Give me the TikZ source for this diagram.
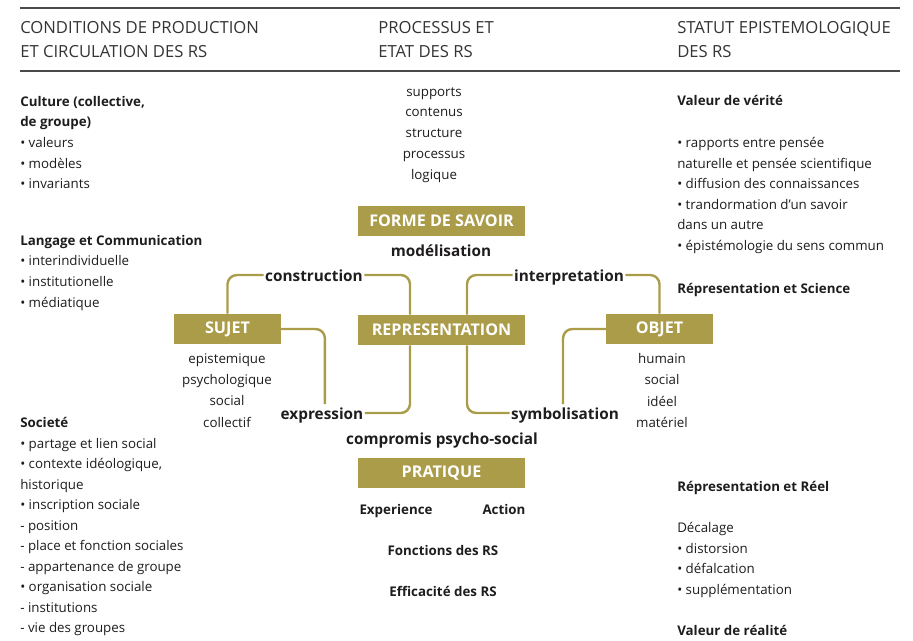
\documentclass[tikz,border=0pt]{standalone}
\usepackage{fontspec}
\setmainfont{Open Sans}
\usepackage{tikz}
\usetikzlibrary{positioning,calc}
\definecolor{rsgold}{HTML}{AA9C48}
\definecolor{ink}{HTML}{1E1C1C}
\tikzstyle{block} = [fill=rsgold, text=white, minimum height=22.5pt, inner sep=0pt,
    font=\bfseries\fontsize{12.1}{14}\selectfont]
\tikzstyle{wide} = [block, minimum width=125pt]
\tikzstyle{narrow} = [block, minimum width=80pt]
\tikzstyle{link} = [rsgold, line width=1.8pt, rounded corners=7pt]
\tikzstyle{proc} = [font=\bfseries\fontsize{11.5}{14}\selectfont, text=ink, inner sep=1pt,
    text height=10pt, text depth=1pt]
\tikzstyle{head} = [font=\fontsize{12.5}{18}\selectfont, text=ink!90, align=left,
    anchor=north west, inner sep=0pt]
\tikzstyle{body} = [font=\fontsize{10}{15.4}\selectfont, text=ink, align=left,
    anchor=north west, inner sep=0pt]
\tikzstyle{list} = [font=\fontsize{10}{15.6}\selectfont, text=ink, align=center,
    anchor=north, inner sep=0pt]
\tikzstyle{item} = [font=\bfseries\fontsize{10}{12}\selectfont, text=ink, inner sep=0pt,
    text height=9pt, text depth=0.7pt]
\tikzstyle{rule} = [ink!80, line width=1.1pt]

\begin{document}
\begin{tikzpicture}[x=0.75pt, y=-0.75pt]
    \useasboundingbox (0,0) rectangle (913,640);

    % column heads
    \draw [rule] (20,8) -- (900,8);
    \draw [rule] (20,71) -- (900,71);
    \node (head1) [head] at (20,21) {CONDITIONS DE PRODUCTION\\ET CIRCULATION DES RS};
    \node (head2) [head] at (378,21) {PROCESSUS ET\\ETAT DES RS};
    \node (head3) [head] at (677,21) {STATUT EPISTEMOLOGIQUE\\DES RS};

    % left column
    \node (culture) [body] at (20,96) {\textbf{Culture (collective,}\\\textbf{de groupe)}\\• valeurs\\• modèles\\• invariants};
    \node (langage) [body] at (20,235) {\textbf{Langage et Communication}\\• interindividuelle\\• institutionelle\\• médiatique};
    \node (societe) [body] at (20,417) {\textbf{Societé}\\• partage et lien social\\• contexte idéologique,\\historique\\• inscription sociale\\- position\\- place et fonction sociales\\- appartenance de groupe\\• organisation sociale\\- institutions\\- vie des groupes};

    % centre
    \node (etat) [list] at (434,87) {supports\\contenus\\structure\\processus\\logique};
    \node (forme) [wide] at (441.5,221) {FORME DE SAVOIR};
    \node (model) [proc] at (441,250) {modélisation};
    \node (repr) [wide] at (441.5,330) {REPRESENTATION};
    \node (sujet) [narrow] at (227.5,329) {SUJET};
    \node (objet) [narrow] at (659.5,329) {OBJET};
    \node (construction) [proc] at (314,275) {construction};
    \node (interpretation) [proc] at (569,275) {interpretation};
    \node (expression) [proc] at (322,413) {expression};
    \node (symbolisation) [proc] at (565,413) {symbolisation};
    \node (compromis) [proc] at (442,438) {compromis psycho-social};
    \node (pratique) [wide] at (441.5,473) {PRATIQUE};
    \node (sujetlist) [list, font=\fontsize{10}{16}\selectfont] at (227,353) {epistemique\\psychologique\\social\\collectif};
    \node (objetlist) [list, font=\fontsize{10}{16}\selectfont] at (662,353) {humain\\social\\idéel\\matériel};
    \node (experience) [item] at (396,509) {Experience};
    \node (action) [item] at (504,509) {Action};
    \node (fonctions) [item] at (443,550) {Fonctions des RS};
    \node (efficacite) [item] at (443,591) {Efficacité des RS};

    \coordinate (rtl) at ([xshift=-23.6pt]repr.north);
    \coordinate (rtr) at ([xshift=19.1pt]repr.north);
    \coordinate (rbl) at ([xshift=-23.6pt]repr.south);
    \coordinate (rbr) at ([xshift=19.1pt]repr.south);

    \draw [link] (sujet.north) |- (construction.west);
    \draw [link] (construction.east) -| (rtl);
    \draw [link] (rtr) |- (interpretation.west);
    \draw [link] (interpretation.east) -| (objet.north);
    \draw [link] (sujet.east) -| ([xshift=2.2pt]expression.north);
    \draw [link] (expression.east) -| (rbl);
    \draw [link] (rbr) |- (symbolisation.west);
    \draw [link] (objet.west) -| ([xshift=-1.5pt]symbolisation.north);

    % right column
    \node (verite) [body, font=\bfseries\fontsize{10}{15.4}\selectfont] at (677,95) {Valeur de vérité};
    \node (rapports) [body] at (677,137) {• rapports entre pensée\\naturelle et pensée scientifique\\• diffusion des connaissances\\• trandormation d'un savoir\\dans un autre\\• épistémologie du sens commun};
    \node (science) [body, font=\bfseries\fontsize{10}{15.4}\selectfont] at (677,283) {Répresentation et Science};
    \node (reel) [body, font=\bfseries\fontsize{10}{15.4}\selectfont] at (677,481) {Répresentation et Réel};
    \node (decalage) [body] at (677,522) {Décalage\\• distorsion\\• défalcation\\• supplémentation};
    \node (realite) [body, font=\bfseries\fontsize{10}{15.4}\selectfont] at (677,625) {Valeur de réalité};
\end{tikzpicture}
\end{document}
